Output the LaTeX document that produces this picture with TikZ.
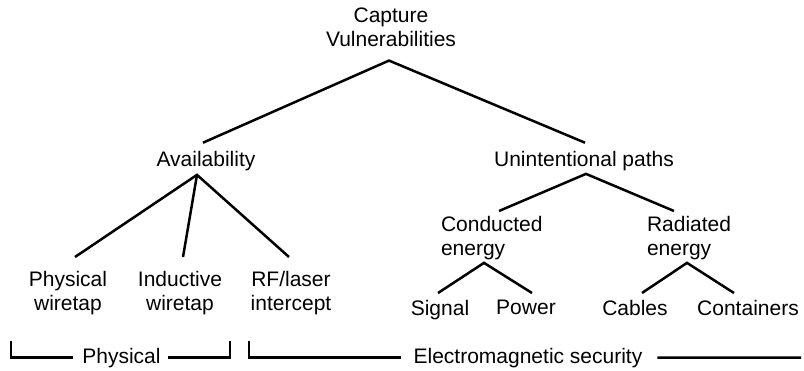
\documentclass[tikz,border=0pt]{standalone}
\usepackage{fontspec}
\setmainfont{Liberation Sans}
\usetikzlibrary{calc}
\tikzset{
  lbl/.style={font=\fontsize{21}{24}\selectfont, inner sep=0pt, outer sep=0pt, align=center, anchor=north},
  lblL/.style={lbl, align=left, anchor=north west},
  grp/.style={font=\fontsize{21}{24}\selectfont, inner sep=0pt, outer sep=0pt, anchor=base},
  link/.style={line width=2.5pt, line cap=butt, line join=miter}
}
\begin{document}
\begin{tikzpicture}[x=1pt, y=-1pt]
\useasboundingbox (0,0) rectangle (804,370);

% tree labels
\node[lbl] (cap) at (391,7.7) {Capture\\Vulnerabilities};
\node[lbl] (avail) at (206,151.7) {Availability};
\node[lbl] (unint) at (584,151.7) {Unintentional paths};
\node[lbl] (phys) at (68,271.7) {Physical\\wiretap};
\node[lbl] (induct) at (180,271.7) {Inductive\\wiretap};
\node[lbl] (rf) at (291,271.7) {RF/laser\\intercept};
\node[lblL] (cond) at (441,216.7) {Conducted\\energy};
\node[lblL] (rad) at (647,216.7) {Radiated\\energy};
\node[lbl] (sig) at (440,300) {Signal};
\node[lbl] (pow) at (526,300) {Power};
\node[lbl] (cab) at (635,300) {Cables};
\node[lbl] (cont) at (748,300) {Containers};

% branches
\draw[link] ($(avail.north)+(-3,-9)$) -- ($(cap.south)+(-2,14)$) -- ($(unint.north)+(1,-9)$);
\draw[link] ($(phys.north)+(7,-14.7)$) -- ($(avail.south)+(-9,3.6)$) -- ($(rf.north)+(-2,-14.7)$);
\draw[link] ($(avail.south)+(-9,3.6)$) -- ($(induct.north)+(3,-14.7)$);
\draw[link] ($(cond.north west)+(58,-5.7)$) -- ($(unint.south)+(2,2.6)$) -- ($(rad.north west)+(27,-5.7)$);
\draw[link] ($(sig.north)+(-2,-7)$) -- ($(cond.south west)+(43,2.6)$) -- ($(pow.north)+(6,-7)$);
\draw[link] ($(cab.north)+(7,-7)$) -- ($(rad.south west)+(40,2.6)$) -- ($(cont.north)+(-14,-7)$);

% grouping brackets
\node[grp] (phl) at (121.5,363) {Physical};
\node[grp] (eml) at (528,363) {Electromagnetic security};
\coordinate (phA) at (11,341);
\coordinate (phB) at (230,341);
\coordinate (emA) at (249,341);
\coordinate (emB) at (801,357.5);
\draw[link] (phA) |- ([xshift=-9pt]phl.west);
\draw[link] (phB) |- ([xshift=7pt]phl.east);
\draw[link] (emA) |- ([xshift=-13pt]eml.west);
\draw[link] ([xshift=15pt]eml.east) -- (emB);
\end{tikzpicture}
\end{document}
